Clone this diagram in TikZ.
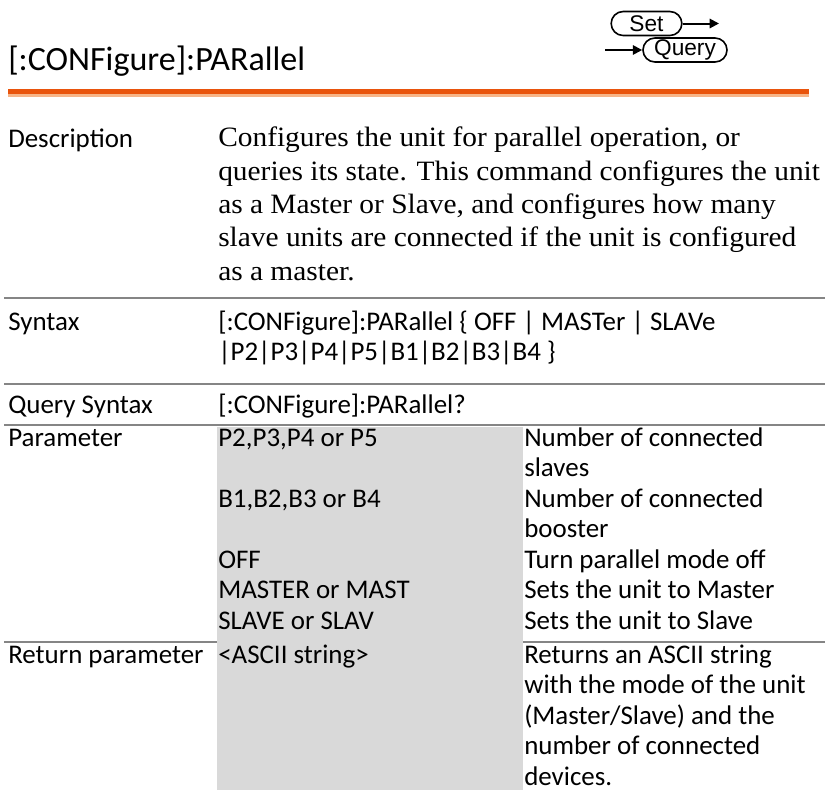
\documentclass[tikz,border=0pt]{standalone}
\usepackage{fontspec}
\setmainfont{Liberation Serif}
\setsansfont{Carlito}
\newfontfamily\pillfont{Liberation Sans}
\newfontfamily\descfont[FakeStretch=1.05]{Liberation Serif}
\usetikzlibrary{arrows.meta,positioning}
\definecolor{rulegray}{HTML}{858585}
\definecolor{cellgray}{HTML}{D9D9D9}
\definecolor{barorange}{HTML}{E9540C}
\definecolor{barpeach}{HTML}{F7B588}
\tikzset{
    cmdtitle/.style={anchor=base west, inner sep=0pt, font=\sffamily\fontsize{25.5}{28}\selectfont},
    rowlabel/.style={anchor=base west, inner sep=0pt, align=left, font=\sffamily\fontsize{20.2}{22.875}\selectfont},
    rowtext/.style={anchor=base west, inner sep=0pt, align=left, font=\descfont\fontsize{21}{25}\selectfont},
    modepill/.style={draw, line width=1.2pt, rounded corners=9pt, minimum height=18pt, inner sep=0pt, font=\pillfont\fontsize{17}{17}\selectfont},
    modearrow/.style={-{Triangle[length=7pt,width=7pt]}, line width=1.5pt},
    rowrule/.style={rulegray, line width=2.2pt}
}
\begin{document}
\begin{tikzpicture}[x=0.75pt,y=-0.75pt]
        \useasboundingbox[fill=white] (0,0) rectangle (825,790);
        % header
        \node[cmdtitle] (title) at (8,70) {[:CONFigure]:PARallel};
        \node[modepill, minimum width=53pt] (setpill) at (646.5,23.5) {Set};
        \node[modepill, minimum width=63pt] (querypill) at (685,50) {Query};
        \coordinate (setend) at (719,23.5);
        \coordinate (querystart) at (605,50);
        \draw[modearrow] (setpill.east) -- (setend);
        \draw[modearrow] (querystart) -- (querypill.west);
        \fill[barorange] (8,89) rectangle (809,93.5);
        \fill[barpeach] (8,93.5) rectangle (809,96.5);
        % rules between rows
        \draw[rowrule] (4,298) -- (825,298);
        \draw[rowrule] (4,384) -- (825,384);
        \draw[rowrule] (4,425) -- (825,425);
        \draw[rowrule] (4,642) -- (825,642);
        \fill[cellgray] (217,426.5) rectangle (523,790);
        % description (multi-line nodes sit on their last line)
        \node[rowlabel] (desclabel) at (8,147) {Description};
        \node[rowtext] (desctext) at (218,280.3) {Configures the unit for parallel operation, or\\
            queries its state. This command configures the unit\\
            as a Master or Slave, and configures how many\\
            slave units are connected if the unit is configured\\
            as a master.};
        % syntax
        \node[rowlabel] (synlabel) at (8,330) {Syntax};
        \node[rowlabel] (syntext) at (218,360.5) {[:CONFigure]:PARallel \{ OFF | MASTer | SLAVe\\
            |P2|P3|P4|P5|B1|B2|B3|B4 \}};
        \node[rowlabel] (qrylabel) at (8,413) {Query Syntax};
        \node[rowlabel] (qrytext) at (218,413) {[:CONFigure]:PARallel?};
        % parameters
        \node[rowlabel] (parlabel) at (8,446) {Parameter};
        \node[rowlabel] (parp) at (218,446) {P2,P3,P4 or P5};
        \node[rowlabel] (parpdesc) at (524,476.5) {Number of connected\\ slaves};
        \node[rowlabel] (parb) at (218,507) {B1,B2,B3 or B4};
        \node[rowlabel] (parbdesc) at (524,537.5) {Number of connected\\ booster};
        \node[rowlabel] (paroff) at (218,568) {OFF};
        \node[rowlabel] (paroffdesc) at (524,568) {Turn parallel mode off};
        \node[rowlabel] (parmast) at (218,598.5) {MASTER or MAST};
        \node[rowlabel] (parmastdesc) at (524,598.5) {Sets the unit to Master};
        \node[rowlabel] (parslav) at (218,629) {SLAVE or SLAV};
        \node[rowlabel] (parslavdesc) at (524,629) {Sets the unit to Slave};
        % return
        \node[rowlabel] (retlabel) at (8,663) {Return parameter};
        \node[rowlabel] (rettype) at (218,663) {<ASCII string>};
        \node[rowlabel] (retdesc) at (524,785) {Returns an ASCII string\\
            with the mode of the unit\\
            (Master/Slave) and the\\
            number of connected\\
            devices.};
    \end{tikzpicture}
\end{document}
